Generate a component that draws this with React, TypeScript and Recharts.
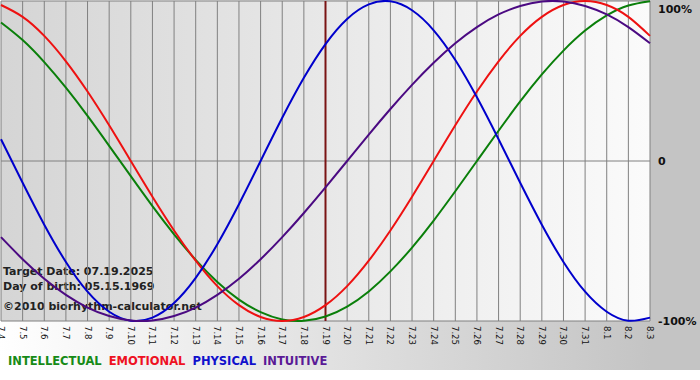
import { LineChart, Line, XAxis, YAxis, CartesianGrid, ReferenceLine } from "recharts";

// days shown on the x axis (7.4 .. 8.3)
const days = [
  "7.4", "7.5", "7.6", "7.7", "7.8", "7.9", "7.10", "7.11", "7.12", "7.13",
  "7.14", "7.15", "7.16", "7.17", "7.18", "7.19", "7.20", "7.21", "7.22", "7.23",
  "7.24", "7.25", "7.26", "7.27", "7.28", "7.29", "7.30", "7.31", "8.1", "8.2", "8.3",
];

const intellectual = [
  0.866, 0.756, 0.618, 0.458, 0.282, 0.095, -0.095, -0.282, -0.458, -0.618,
  -0.756, -0.866, -0.945, -0.99, -0.999, -0.972, -0.91, -0.815, -0.69, -0.541,
  -0.372, -0.189, 0, 0.189, 0.372, 0.541, 0.69, 0.815, 0.91, 0.972, 0.999,
];
const emotional = [
  0.975, 0.901, 0.782, 0.623, 0.434, 0.223, 0, -0.223, -0.434, -0.623,
  -0.782, -0.901, -0.975, -1.0, -0.975, -0.901, -0.782, -0.623, -0.434, -0.223,
  0, 0.223, 0.434, 0.623, 0.782, 0.901, 0.975, 1.0, 0.975, 0.901, 0.782,
];
const physical = [
  0.136, -0.136, -0.398, -0.631, -0.817, -0.942, -0.998, -0.979, -0.888, -0.731,
  -0.52, -0.27, 0, 0.27, 0.52, 0.731, 0.888, 0.979, 0.998, 0.942,
  0.817, 0.631, 0.398, 0.136, -0.136, -0.398, -0.631, -0.817, -0.942, -0.998, -0.979,
];
const intuitive = [
  -0.476, -0.614, -0.736, -0.837, -0.916, -0.969, -0.997, -0.997, -0.969, -0.916,
  -0.837, -0.736, -0.614, -0.476, -0.325, -0.165, 0, 0.165, 0.325, 0.476,
  0.614, 0.736, 0.837, 0.916, 0.969, 0.997, 0.997, 0.969, 0.916, 0.837, 0.736,
];

const levelTicks = [-1, 0, 1];
const levelLabels = ["-100%", "0", "100%"];
const targetDay = "7.19";
const infoLines = [
  "Target Date: 07.19.2025",
  "Day of birth: 05.15.1969",
  "©2010 biorhythm-calculator.net",
];

const series = [
  { key: "intellectual", name: "INTELLECTUAL", color: "#0a7f0a", text: "#168a16" },
  { key: "emotional", name: "EMOTIONAL", color: "#ee1111", text: "#ee1122" },
  { key: "physical", name: "PHYSICAL", color: "#0000cc", text: "#1010cc" },
  { key: "intuitive", name: "INTUITIVE", color: "#4b0a82", text: "#5a1a96" },
];

const data = days.map((day, i) => ({
  i,
  day,
  intellectual: intellectual[i],
  emotional: emotional[i],
  physical: physical[i],
  intuitive: intuitive[i],
}));

const FONT = "'DejaVu Sans', Verdana, sans-serif";

const DayTick = ({ x, y, payload }: any) => (
  <text
    x={x}
    y={y}
    transform={`rotate(90 ${x} ${y})`}
    textAnchor="start"
    dominantBaseline="central"
    fontSize={8.5}
    fontFamily={FONT}
    fill="#111"
  >
    {days[payload.value]}
  </text>
);

const LevelTick = ({ x, y, payload }: any) => (
  <text
    x={x}
    y={Math.max(y, 7)}
    dy="0.35em"
    textAnchor="start"
    fontSize={11}
    fontWeight="bold"
    fontFamily={FONT}
    fill="#111"
  >
    {levelLabels[levelTicks.indexOf(payload.value)]}
  </text>
);

export default function App() {
  return (
    <div style={{ position: "absolute", left: 0, top: 0, width: 700, height: 380, background: "#fff", fontFamily: FONT }}>
      {/* outer gradient frame */}
      <div style={{ position: "absolute", left: 0, top: 0, width: 700, height: 370, background: "linear-gradient(to right, #ffffff 0%, #c4c4c4 93%, #c4c4c4 100%)" }} />
      {/* plot background */}
      <div style={{ position: "absolute", left: 1, top: 1, width: 649, height: 320, background: "linear-gradient(to right, #d5d5d5, #fbfbfb)" }} />

      <div style={{ position: "absolute", left: 3, top: 264, fontSize: 11, fontWeight: "bold", color: "#222", lineHeight: "15px" }}>
        <div>{infoLines[0]}</div>
        <div>{infoLines[1]}</div>
        <div style={{ marginTop: 5 }}>{infoLines[2]}</div>
      </div>

      <div style={{ position: "absolute", top: 0, left: 0 }}>
        <LineChart width={700} height={380} data={data} margin={{ top: 1, right: 0, left: 1, bottom: 19 }}>
          <CartesianGrid stroke="#808080" strokeWidth={1} fill="none" />
          <XAxis
            type="number"
            dataKey="i"
            domain={[0, days.length - 1]}
            ticks={days.map((_, i) => i)}
            interval={0}
            axisLine={false}
            tickLine={false}
            tickSize={0}
            tickMargin={5}
            height={40}
            tick={<DayTick />}
          />
          <YAxis
            orientation="right"
            domain={[-1, 1]}
            ticks={levelTicks}
            axisLine={false}
            tickLine={false}
            tickSize={0}
            tickMargin={8}
            width={50}
            tick={<LevelTick />}
          />
          <ReferenceLine x={days.indexOf(targetDay)} stroke="#7a1414" strokeWidth={2} />
          {series.map((s) => (
            <Line
              key={s.key}
              type="natural"
              dataKey={s.key}
              stroke={s.color}
              strokeWidth={2}
              dot={false}
              activeDot={false}
              isAnimationActive={false}
            />
          ))}
        </LineChart>
      </div>

      <div style={{ position: "absolute", left: 8, top: 354, fontSize: 11.5, fontWeight: "bold", display: "flex", gap: 7, whiteSpace: "nowrap" }}>
        {series.map((s) => (
          <span key={s.key} style={{ color: s.text }}>{s.name}</span>
        ))}
      </div>
    </div>
  );
}
